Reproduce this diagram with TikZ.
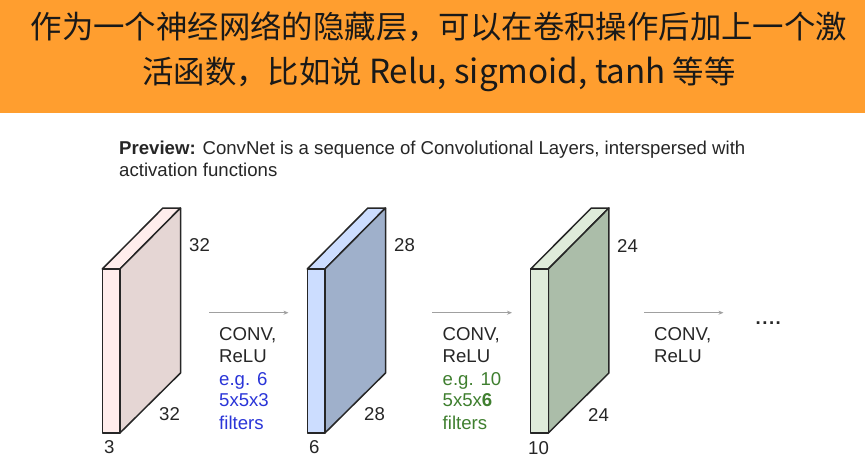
\documentclass[tikz,border=0pt]{standalone}
\usepackage{fontspec}
\setmainfont{Liberation Sans}
\newfontfamily\cjk{Noto Sans CJK SC}
\usetikzlibrary{arrows.meta}
\definecolor{band}{HTML}{FF9E2F}
\definecolor{egblue}{HTML}{2A35D8}
\definecolor{eggreen}{HTML}{3F7F2F}
\definecolor{arrowgray}{HTML}{A0A0A0}
\definecolor{alight}{HTML}{FFEDEC}
\definecolor{adark}{HTML}{E5D6D4}
\definecolor{blight}{HTML}{CCDDFF}
\definecolor{bdark}{HTML}{9FB0CB}
\definecolor{clight}{HTML}{DFEBDA}
\definecolor{cdark}{HTML}{ABBDA9}
\tikzset{
  lbl/.style={inner sep=0pt,anchor=base west,font=\fontsize{18.6}{18.6}\selectfont,text=black!85},
  faceedge/.style={draw=black!85,line width=1.5pt,line join=round},
  flow/.style={draw=arrowgray,line width=1pt,-{Stealth[length=5pt,width=4pt]}},
  titletext/.style={inner sep=0pt,text=black!90,font=\cjk\fontsize{31.4}{36}\selectfont},
}
\newcommand{\layerbox}[6]{%
  \coordinate (#1fa) at (#2,269);
  \coordinate (#1fb) at (#2+#3,269);
  \coordinate (#1fc) at (#2+#3,433);
  \coordinate (#1fd) at (#2,433);
  \coordinate (#1ba) at (#2+#4,208);
  \coordinate (#1bb) at (#2+#3+#4,208);
  \coordinate (#1bc) at (#2+#3+#4,373);
  \draw[faceedge,fill=#5] (#1fa) -- (#1ba) -- (#1bb) -- (#1fb) -- cycle;
  \draw[faceedge,fill=#6] (#1fb) -- (#1bb) -- (#1bc) -- (#1fc) -- cycle;
  \draw[faceedge,fill=#5] (#1fa) -- (#1fb) -- (#1fc) -- (#1fd) -- cycle;
}
\begin{document}
\begin{tikzpicture}[x=1pt,y=-1pt]
\useasboundingbox (0,0) rectangle (865,469);
\fill[white] (0,0) rectangle (865,469);
\fill[band] (0,0) rectangle (865,112.5);
\node[titletext,anchor=base] (t1) at (439,38.5) {作为一个神经网络的隐藏层，可以在卷积操作后加上一个激};
\node[titletext,anchor=base] (t2) at (439,83) {活函数，比如说 {\fontsize{33.2}{36}\selectfont Relu, sigmoid, tanh} 等等};
\node[lbl,anchor=base west] (p1) at (119,154) {\textbf{Preview:} ConvNet is a sequence of Convolutional Layers, interspersed with};
\node[lbl,anchor=base west] (p2) at (119,176) {activation functions};

\layerbox{a}{102.3}{17.6}{60.6}{alight}{adark}
\layerbox{b}{307.3}{17.6}{60.6}{blight}{bdark}
\layerbox{c}{530.7}{17.6}{60.6}{clight}{cdark}

\node[lbl] (a1) at (189,251.5) {32};
\node[lbl] (a2) at (159,420.5) {32};
\node[lbl] (a3) at (104,453.5) {3};
\node[lbl] (b1) at (394,251.5) {28};
\node[lbl] (b2) at (364,420.5) {28};
\node[lbl] (b3) at (309,453.5) {6};
\node[lbl] (c1) at (617,252.5) {24};
\node[lbl] (c2) at (588,421) {24};
\node[lbl] (c3) at (528,454) {10};

\coordinate (s1) at (209,312.7); \coordinate (e1) at (288.5,312.7);
\coordinate (s2) at (432,312.7); \coordinate (e2) at (512,312.7);
\coordinate (s3) at (644,312.7); \coordinate (e3) at (723.5,312.7);
\draw[flow] (s1) -- (e1);
\draw[flow] (s2) -- (e2);
\draw[flow] (s3) -- (e3);

\node[lbl] (m1) at (219,340) {CONV,};
\node[lbl] (m2) at (219,362) {ReLU};
\node[lbl,text=egblue] (m3) at (219,385) {e.g. 6};
\node[lbl,text=egblue] (m4) at (219,406) {5x5x3};
\node[lbl,text=egblue] (m5) at (219,429) {filters};

\node[lbl] (n1) at (442.5,340) {CONV,};
\node[lbl] (n2) at (442.5,362) {ReLU};
\node[lbl,text=eggreen] (n3) at (442.5,385) {e.g. 10};
\node[lbl,text=eggreen] (n4) at (442.5,406) {5x5x\textbf{6}};
\node[lbl,text=eggreen] (n5) at (442.5,429) {filters};

\node[lbl] (o1) at (654,340) {CONV,};
\node[lbl] (o2) at (654,362) {ReLU};
\node[lbl] (dots) at (755.5,324) {\textbf{.\kern1.5pt.\kern1.5pt.\kern1.5pt.}};
\end{tikzpicture}
\end{document}
